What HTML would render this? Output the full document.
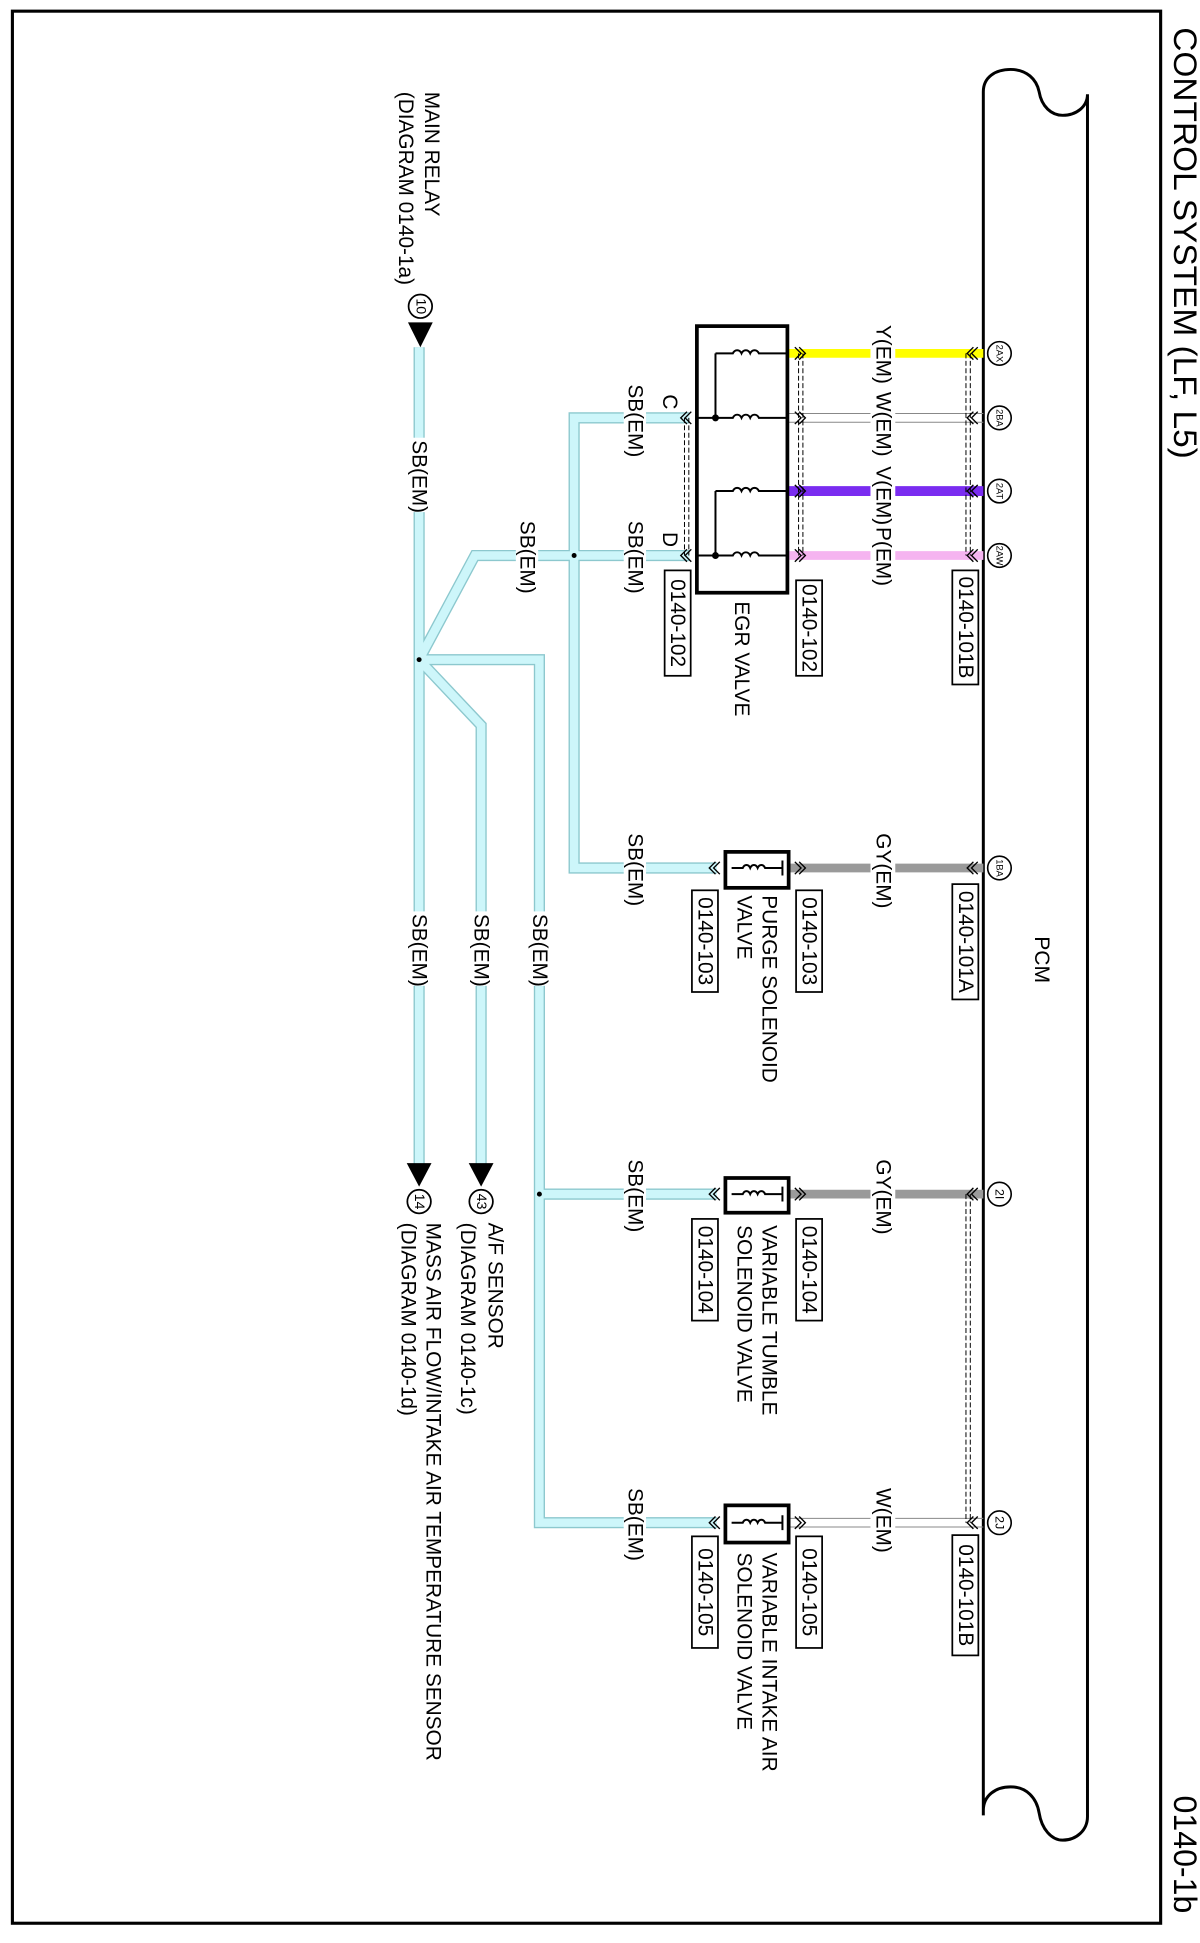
<!DOCTYPE html>
<html><head><meta charset="utf-8"><style>
html,body{margin:0;padding:0;background:#fff;}
svg{display:block;}
text{font-family:"Liberation Sans",Arial,sans-serif;fill:#000;}
</style></head><body>
<svg width="1200" height="1943" viewBox="0 0 967.74 1566.94" xmlns="http://www.w3.org/2000/svg">
<rect x="10" y="9" width="926" height="1542" fill="none" stroke="#000" stroke-width="2.5"/>
<text transform="translate(956,22) rotate(90)" dominant-baseline="central" font-size="26.5" textLength="348" lengthAdjust="spacingAndGlyphs">CONTROL SYSTEM (LF, L5)</text>
<text transform="translate(956,1448) rotate(90)" dominant-baseline="central" font-size="26.5" textLength="95" lengthAdjust="spacingAndGlyphs">0140-1b</text>

<!-- PCM -->
<path d="M793,1464 L793,74 C793,62 803,56 815,56 C828,56 836,64 838,74 C840,86 848,93 857,93 C868,93 877,86 877,76 L877,1465 C877,1476 868,1484 857,1484 C848,1484 840,1475 838,1462 C836,1450 828,1441 815,1441 C803,1441 793,1448 793,1460" fill="none" stroke="#000" stroke-width="2.4"/>
<text transform="translate(840,755) rotate(90)" dominant-baseline="central" font-size="17">PCM</text>

<!-- SB wires -->
<g fill="none" stroke-linejoin="miter">
<g stroke="#8cc8ce" stroke-width="9">
<path d="M556,337 L463,337 L463,700 L578,700"/>
<path d="M556,448 L383,448 L338,532"/>
<path d="M338,280 L338,940"/>
<path d="M338,532 L435,532 L435,1228 L578,1228"/>
<path d="M435,963 L578,963"/>
<path d="M338,532 L388,585 L388,940"/>
</g>
<g stroke="#cdf6fa" stroke-width="6.8">
<path d="M556,337 L463,337 L463,700 L578,700"/>
<path d="M556,448 L383,448 L338,532"/>
<path d="M338,280 L338,940"/>
<path d="M338,532 L435,532 L435,1228 L578,1228"/>
<path d="M435,963 L578,963"/>
<path d="M338,532 L388,585 L388,940"/>
</g>
</g>
<g fill="#000"><circle cx="463" cy="448" r="2"/><circle cx="338" cy="532" r="2"/><circle cx="435" cy="963" r="2"/></g>

<!-- colored wires to PCM -->
<g fill="none">
<line x1="636" y1="285" x2="793" y2="285" stroke="#ffff00" stroke-width="7"/>
<line x1="636" y1="333.5" x2="793" y2="333.5" stroke="#888" stroke-width="0.8"/>
<line x1="636" y1="340.5" x2="793" y2="340.5" stroke="#888" stroke-width="0.8"/>
<line x1="636" y1="396" x2="793" y2="396" stroke="#7a2cf0" stroke-width="8"/>
<line x1="636" y1="448" x2="793" y2="448" stroke="#f5b4f0" stroke-width="7"/>
<line x1="636" y1="700" x2="793" y2="700" stroke="#9a9a9a" stroke-width="7"/>
<line x1="636" y1="963" x2="793" y2="963" stroke="#9a9a9a" stroke-width="7"/>
<line x1="636" y1="1224.5" x2="793" y2="1224.5" stroke="#888" stroke-width="0.8"/>
<line x1="636" y1="1231.5" x2="793" y2="1231.5" stroke="#888" stroke-width="0.8"/>
</g>

<!-- dashed shields -->
<g stroke="#000" stroke-width="0.8" stroke-dasharray="4,2" fill="none">
<line x1="644" y1="285" x2="644" y2="448"/><line x1="647.5" y1="285" x2="647.5" y2="448"/>
<line x1="779" y1="285" x2="779" y2="448"/><line x1="782.5" y1="285" x2="782.5" y2="448"/>
<line x1="552" y1="337" x2="552" y2="448"/><line x1="555.5" y1="337" x2="555.5" y2="448"/>
<line x1="779" y1="963" x2="779" y2="1228"/><line x1="782.5" y1="963" x2="782.5" y2="1228"/>
</g>

<!-- chevrons -->
<g stroke="#000" stroke-width="1.1" fill="none">
<polyline points="641,280 646,285 641,290"/><polyline points="644.5,280 649.5,285 644.5,290"/>
<polyline points="641,332 646,337 641,342"/><polyline points="644.5,332 649.5,337 644.5,342"/>
<polyline points="641,391 646,396 641,401"/><polyline points="644.5,391 649.5,396 644.5,401"/>
<polyline points="641,443 646,448 641,453"/><polyline points="644.5,443 649.5,448 644.5,453"/>
<polyline points="641,695 646,700 641,705"/><polyline points="644.5,695 649.5,700 644.5,705"/>
<polyline points="641,958 646,963 641,968"/><polyline points="644.5,958 649.5,963 644.5,968"/>
<polyline points="641,1223 646,1228 641,1233"/><polyline points="644.5,1223 649.5,1228 644.5,1233"/>

<polyline points="785,280 780,285 785,290"/><polyline points="788.5,280 783.5,285 788.5,290"/>
<polyline points="785,332 780,337 785,342"/><polyline points="788.5,332 783.5,337 788.5,342"/>
<polyline points="785,391 780,396 785,401"/><polyline points="788.5,391 783.5,396 788.5,401"/>
<polyline points="785,443 780,448 785,453"/><polyline points="788.5,443 783.5,448 788.5,453"/>
<polyline points="785,695 780,700 785,705"/><polyline points="788.5,695 783.5,700 788.5,705"/>
<polyline points="785,958 780,963 785,968"/><polyline points="788.5,958 783.5,963 788.5,968"/>
<polyline points="785,1223 780,1228 785,1233"/><polyline points="788.5,1223 783.5,1228 788.5,1233"/>

<polyline points="554,332 549,337 554,342"/><polyline points="557.5,332 552.5,337 557.5,342"/>
<polyline points="554,443 549,448 554,453"/><polyline points="557.5,443 552.5,448 557.5,453"/>
<polyline points="577,695 572,700 577,705"/><polyline points="580.5,695 575.5,700 580.5,705"/>
<polyline points="577,958 572,963 577,968"/><polyline points="580.5,958 575.5,963 580.5,968"/>
<polyline points="577,1223 572,1228 577,1233"/><polyline points="580.5,1223 575.5,1228 580.5,1233"/>
</g>

<!-- EGR valve -->
<rect x="562" y="263" width="73" height="215" fill="#fff" stroke="#000" stroke-width="3"/>
<g stroke="#000" stroke-width="1.6" fill="none">
<path d="M577,285 L591,285 a4,5 0 0 1 7,0 a4,5 0 0 1 7,0 a4,5 0 0 1 7,0 L635,285"/>
<path d="M562,337 L591,337 a4,5 0 0 1 7,0 a4,5 0 0 1 7,0 a4,5 0 0 1 7,0 L635,337"/>
<path d="M577,396 L591,396 a4,5 0 0 1 7,0 a4,5 0 0 1 7,0 a4,5 0 0 1 7,0 L635,396"/>
<path d="M562,448 L591,448 a4,5 0 0 1 7,0 a4,5 0 0 1 7,0 a4,5 0 0 1 7,0 L635,448"/>
<line x1="577" y1="285" x2="577" y2="337"/><line x1="577" y1="396" x2="577" y2="448"/>
</g>
<circle cx="577" cy="337" r="2.8"/><circle cx="577" cy="448" r="2.8"/>

<!-- solenoid boxes -->
<g stroke="#000" fill="#fff">
<rect x="585" y="687" width="51" height="29" stroke-width="3"/>
<rect x="585" y="950" width="51" height="28" stroke-width="3"/>
<rect x="585" y="1214" width="51" height="30" stroke-width="3"/>
</g>
<g stroke="#000" stroke-width="1.6" fill="none">
<path d="M590,700 L599,700 a3.5,5 0 0 1 6,0 a3.5,5 0 0 1 6,0 a3.5,5 0 0 1 6,0 L631,700 M631,694 L631,706"/>
<path d="M590,963 L599,963 a3.5,5 0 0 1 6,0 a3.5,5 0 0 1 6,0 a3.5,5 0 0 1 6,0 L631,963 M631,957 L631,969"/>
<path d="M590,1228 L599,1228 a3.5,5 0 0 1 6,0 a3.5,5 0 0 1 6,0 a3.5,5 0 0 1 6,0 L631,1228 M631,1222 L631,1234"/>
</g>

<!-- pins -->
<g font-size="7.5">
<g transform="translate(806,285)"><circle r="9.5" fill="#fff" stroke="#000" stroke-width="1.3"/><text transform="rotate(90)" text-anchor="middle" dominant-baseline="central">2AX</text></g>
<g transform="translate(806,337)"><circle r="9.5" fill="#fff" stroke="#000" stroke-width="1.3"/><text transform="rotate(90)" text-anchor="middle" dominant-baseline="central">2BA</text></g>
<g transform="translate(806,396)"><circle r="9.5" fill="#fff" stroke="#000" stroke-width="1.3"/><text transform="rotate(90)" text-anchor="middle" dominant-baseline="central">2AT</text></g>
<g transform="translate(806,448)"><circle r="9.5" fill="#fff" stroke="#000" stroke-width="1.3"/><text transform="rotate(90)" text-anchor="middle" dominant-baseline="central">2AW</text></g>
<g transform="translate(806,700)"><circle r="9.5" fill="#fff" stroke="#000" stroke-width="1.3"/><text transform="rotate(90)" text-anchor="middle" dominant-baseline="central">1BA</text></g>
<g transform="translate(806,963)"><circle r="9.5" fill="#fff" stroke="#000" stroke-width="1.3"/><text transform="rotate(90)" text-anchor="middle" dominant-baseline="central" font-size="10">2I</text></g>
<g transform="translate(806,1228)"><circle r="9.5" fill="#fff" stroke="#000" stroke-width="1.3"/><text transform="rotate(90)" text-anchor="middle" dominant-baseline="central" font-size="10">2J</text></g>
</g>

<!-- wire labels with gaps -->
<g fill="#fff">
<rect x="702" y="260" width="20" height="56"/>
<rect x="702" y="316" width="20" height="58"/>
<rect x="702" y="375" width="20" height="50"/>
<rect x="702" y="425" width="20" height="48"/>
<rect x="702" y="670" width="20" height="62"/>
<rect x="702" y="933" width="20" height="62"/>
<rect x="702" y="1198" width="20" height="58"/>
<rect x="503" y="308" width="18" height="60"/>
<rect x="503" y="418" width="18" height="60"/>
<rect x="416" y="418" width="18" height="60"/>
<rect x="329" y="353" width="18" height="60"/>
<rect x="329" y="735" width="18" height="60"/>
<rect x="379" y="735" width="18" height="60"/>
<rect x="426" y="735" width="18" height="60"/>
<rect x="503" y="670" width="18" height="60"/>
<rect x="503" y="933" width="18" height="60"/>
<rect x="503" y="1198" width="18" height="60"/>
</g>
<g font-size="16.8">
<text transform="translate(712,262) rotate(90)" dominant-baseline="central">Y(EM)</text>
<text transform="translate(712,316) rotate(90)" dominant-baseline="central">W(EM)</text>
<text transform="translate(712,376) rotate(90)" dominant-baseline="central">V(EM)</text>
<text transform="translate(712,425) rotate(90)" dominant-baseline="central">P(EM)</text>
<text transform="translate(712,672) rotate(90)" dominant-baseline="central">GY(EM)</text>
<text transform="translate(712,935) rotate(90)" dominant-baseline="central">GY(EM)</text>
<text transform="translate(712,1200) rotate(90)" dominant-baseline="central">W(EM)</text>
<text transform="translate(512,310) rotate(90)" dominant-baseline="central">SB(EM)</text>
<text transform="translate(512,420) rotate(90)" dominant-baseline="central">SB(EM)</text>
<text transform="translate(425,420) rotate(90)" dominant-baseline="central">SB(EM)</text>
<text transform="translate(338,355) rotate(90)" dominant-baseline="central">SB(EM)</text>
<text transform="translate(338,737) rotate(90)" dominant-baseline="central">SB(EM)</text>
<text transform="translate(388,737) rotate(90)" dominant-baseline="central">SB(EM)</text>
<text transform="translate(435,737) rotate(90)" dominant-baseline="central">SB(EM)</text>
<text transform="translate(512,672) rotate(90)" dominant-baseline="central">SB(EM)</text>
<text transform="translate(512,935) rotate(90)" dominant-baseline="central">SB(EM)</text>
<text transform="translate(512,1200) rotate(90)" dominant-baseline="central">SB(EM)</text>
<text transform="translate(540,318) rotate(90)" dominant-baseline="central">C</text>
<text transform="translate(540,429) rotate(90)" dominant-baseline="central">D</text>
</g>

<!-- connector boxes -->
<g fill="#fff" stroke="#000" stroke-width="1.4">
<rect x="768" y="460" width="21" height="92"/>
<rect x="642" y="468" width="21" height="77"/>
<rect x="536" y="460" width="21" height="85"/>
<rect x="768" y="713" width="21" height="93"/>
<rect x="642" y="718" width="21" height="82"/>
<rect x="558" y="718" width="21" height="82"/>
<rect x="642" y="983" width="21" height="82"/>
<rect x="558" y="983" width="21" height="82"/>
<rect x="768" y="1238" width="21" height="97"/>
<rect x="642" y="1239" width="21" height="90"/>
<rect x="558" y="1239" width="21" height="90"/>
</g>
<g font-size="16.8">
<text transform="translate(778.5,506) rotate(90)" text-anchor="middle" dominant-baseline="central">0140-101B</text>
<text transform="translate(652.5,506.5) rotate(90)" text-anchor="middle" dominant-baseline="central">0140-102</text>
<text transform="translate(546.5,502.5) rotate(90)" text-anchor="middle" dominant-baseline="central">0140-102</text>
<text transform="translate(778.5,759.5) rotate(90)" text-anchor="middle" dominant-baseline="central">0140-101A</text>
<text transform="translate(652.5,759) rotate(90)" text-anchor="middle" dominant-baseline="central">0140-103</text>
<text transform="translate(568.5,759) rotate(90)" text-anchor="middle" dominant-baseline="central">0140-103</text>
<text transform="translate(652.5,1024) rotate(90)" text-anchor="middle" dominant-baseline="central">0140-104</text>
<text transform="translate(568.5,1024) rotate(90)" text-anchor="middle" dominant-baseline="central">0140-104</text>
<text transform="translate(778.5,1286.5) rotate(90)" text-anchor="middle" dominant-baseline="central">0140-101B</text>
<text transform="translate(652.5,1284) rotate(90)" text-anchor="middle" dominant-baseline="central">0140-105</text>
<text transform="translate(568.5,1284) rotate(90)" text-anchor="middle" dominant-baseline="central">0140-105</text>

<text transform="translate(598,485) rotate(90)" dominant-baseline="central">EGR VALVE</text>
<text transform="translate(620,722) rotate(90)" dominant-baseline="central">PURGE SOLENOID</text>
<text transform="translate(600,722) rotate(90)" dominant-baseline="central">VALVE</text>
<text transform="translate(620,988) rotate(90)" dominant-baseline="central">VARIABLE TUMBLE</text>
<text transform="translate(600,988) rotate(90)" dominant-baseline="central">SOLENOID VALVE</text>
<text transform="translate(620,1252) rotate(90)" dominant-baseline="central">VARIABLE INTAKE AIR</text>
<text transform="translate(600,1252) rotate(90)" dominant-baseline="central">SOLENOID VALVE</text>

<text transform="translate(348,74) rotate(90)" dominant-baseline="central">MAIN RELAY</text>
<text transform="translate(327,74) rotate(90)" dominant-baseline="central">(DIAGRAM 0140-1a)</text>
<text transform="translate(399,986) rotate(90)" dominant-baseline="central">A/F SENSOR</text>
<text transform="translate(377,986) rotate(90)" dominant-baseline="central">(DIAGRAM 0140-1c)</text>
<text transform="translate(349,986) rotate(90)" dominant-baseline="central">MASS AIR FLOW/INTAKE AIR TEMPERATURE SENSOR</text>
<text transform="translate(329,986) rotate(90)" dominant-baseline="central">(DIAGRAM 0140-1d)</text>
</g>

<!-- arrows & circle refs -->
<polygon points="329,260 349,260 339,280" fill="#000"/>
<g transform="translate(339,247)"><circle r="9.5" fill="#fff" stroke="#000" stroke-width="1.4"/><text transform="rotate(90)" text-anchor="middle" dominant-baseline="central" font-size="11.5">10</text></g>
<polygon points="378,938 398,938 388,957" fill="#000"/>
<g transform="translate(388,969)"><circle r="9.5" fill="#fff" stroke="#000" stroke-width="1.4"/><text transform="rotate(90)" text-anchor="middle" dominant-baseline="central" font-size="11.5">43</text></g>
<polygon points="328,938 348,938 338,957" fill="#000"/>
<g transform="translate(338,969)"><circle r="9.5" fill="#fff" stroke="#000" stroke-width="1.4"/><text transform="rotate(90)" text-anchor="middle" dominant-baseline="central" font-size="11.5">14</text></g>
</svg>
</body></html>
